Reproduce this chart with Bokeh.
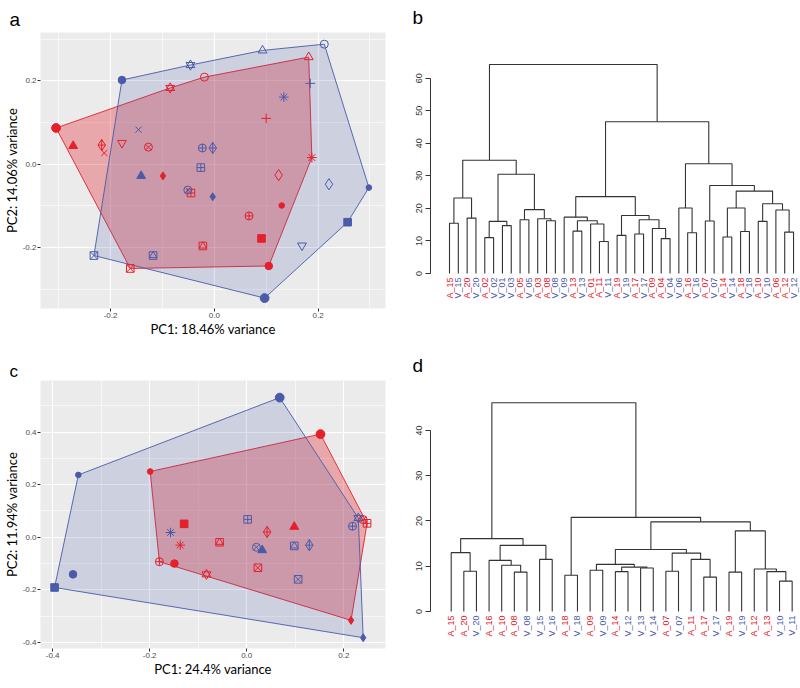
import math
from bokeh.plotting import figure
from bokeh.models import Range1d, FixedTicker, Title, ColumnDataSource, PrintfTickFormatter
from bokeh.layouts import row, column
from bokeh.embed import file_html
from bokeh.resources import INLINE
from bokeh.core.properties import value

RED = "#E3202B"
BLUE = "#4A5BA8"

# ---------------- panel a : PCA ----------------
a_group = ["A"] * 20 + ["V"] * 20
a_shape = [19, 11, 1, 2, 3, 8, 16, 7, 17, 9, 4, 6, 13, 18, 12, 5, 20, 10, 15, 14,
           16, 11, 2, 1, 20, 15, 19, 7, 4, 17, 10, 9, 12, 13, 18, 8, 3, 5, 6, 14]
a_pc1 = [-0.305, -0.085, -0.019, 0.182, 0.100, 0.188, 0.105, -0.162, -0.272, -0.217,
         -0.212, -0.178, -0.127, -0.099, -0.045, 0.124, 0.130, 0.067, 0.091, -0.022,
         -0.178, -0.046, 0.093, 0.212, 0.298, 0.257, 0.097, -0.232, -0.146, -0.141,
         -0.023, -0.003, -0.026, -0.051, -0.003, 0.134, 0.185, 0.221, 0.169, -0.118]
a_pc2 = [0.087, 0.183, 0.209, 0.257, 0.110, 0.016, -0.244, -0.250, 0.044, 0.046,
         0.027, 0.051, 0.041, -0.028, -0.069, -0.026, -0.099, -0.124, -0.178, -0.196,
         0.202, 0.238, 0.273, 0.288, -0.056, -0.139, -0.321, -0.219, 0.083, -0.028,
         0.039, 0.039, -0.008, -0.062, -0.078, 0.161, 0.194, -0.048, -0.195, -0.219]
a_xticks = [-0.2, 0.0, 0.2]
a_yticks = [-0.2, 0.0, 0.2]

# ---------------- panel c : PCA ----------------
c_group = ["A"] * 14 + ["V"] * 14
c_shape = [20, 19, 12, 18, 11, 16, 10, 15, 8, 14, 9, 17, 7, 13,
           19, 11, 18, 15, 20, 16, 8, 12, 13, 17, 14, 9, 7, 10]
c_pc1 = [-0.199, 0.152, 0.248, 0.215, -0.083, -0.149, -0.180, -0.129, -0.137, -0.056,
         0.042, 0.098, 0.023, 0.240,
         0.068, 0.230, 0.240, -0.396, -0.347, -0.358, -0.157, 0.002, 0.020, 0.032,
         0.098, 0.129, 0.106, 0.218]
c_pc2 = [0.250, 0.392, 0.053, -0.316, -0.141, -0.100, -0.093, 0.051, -0.030, -0.019,
         0.020, 0.040, -0.116, 0.067,
         0.531, 0.073, -0.382, -0.191, 0.237, -0.141, 0.018, 0.068, -0.038, -0.049,
         -0.033, -0.030, -0.160, 0.042]
c_xticks = [-0.4, -0.2, 0.0, 0.2]
c_yticks = [-0.4, -0.2, 0.0, 0.2, 0.4]

# ---------------- panel b : dendrogram ----------------
b_labels = ["A_15", "V_15", "A_20", "V_20", "A_02", "V_02", "V_01", "V_03", "A_05", "V_05",
            "A_03", "A_08", "V_08", "V_09", "A_13", "V_13", "A_01", "A_11", "V_11", "A_19",
            "V_19", "A_17", "V_17", "A_09", "A_04", "V_04", "V_06", "A_16", "V_16", "A_07",
            "V_07", "A_14", "V_14", "A_18", "V_18", "A_10", "V_10", "A_06", "A_12", "V_12"]
# merges: negative = leaf position, positive = earlier merge number
b_merge_left = [-1, -3, 1, -5, -7, 4, -9, -12, -11, 7, 6, 3, -15, -18, -17, 13, -14, -20, -22, -25,
                -24, 19, 18, 17, -28, -27, -30, -32, -34, 28, -36, -39, -38, 31, 30, 27, 26, 24, 12]
b_merge_right = [-2, -4, 2, -6, -8, 5, -10, -13, 8, 9, 10, 11, -16, -19, 14, 15, 16, -21, -23, -26,
                 20, 21, 22, 23, -29, 25, -31, -33, -35, 29, -37, -40, 32, 33, 34, 35, 36, 37, 38]
b_merge_height = [15.4, 17.0, 23.2, 11.0, 14.7, 16.0, 16.5, 16.2, 16.8, 19.6, 30.5, 34.8, 13.0,
                  9.8, 15.2, 16.2, 17.3, 11.7, 12.1, 10.7, 13.8, 16.5, 17.8, 23.6, 12.5, 20.1,
                  16.1, 11.2, 12.9, 20.1, 16.0, 12.7, 19.5, 21.4, 25.3, 27.0, 33.7, 46.6, 64.2]
b_yticks = [0, 10, 20, 30, 40, 50, 60]

# ---------------- panel d : dendrogram ----------------
d_labels = ["A_15", "A_20", "V_20", "A_16", "A_10", "A_08", "V_08", "V_15", "V_16", "A_18",
            "V_18", "A_09", "V_09", "A_14", "V_12", "V_13", "V_14", "A_07", "V_07", "A_11",
            "A_17", "V_17", "A_19", "V_19", "A_12", "A_13", "V_10", "V_11"]
d_merge_left = [-2, -1, -6, -5, -4, -8, 5, 2, -10, -12, -14, -16, 11, 10, -18, -21, -20, 15,
                14, -23, -27, -26, -25, 20, 19, 9, 8]
d_merge_right = [-3, 1, -7, 3, 4, -9, 6, 7, -11, -13, -15, -17, 12, 13, -19, -22, 16, 17,
                 18, -24, -28, 21, 22, 23, 24, 25, 26]
d_merge_height = [8.9, 13.0, 8.7, 10.2, 11.3, 11.5, 14.6, 16.1, 8.0, 9.1, 8.8, 9.6, 9.8, 10.4,
                  8.9, 7.6, 11.5, 12.9, 13.7, 8.7, 6.7, 8.8, 9.4, 17.8, 19.8, 20.8, 46.1]
d_yticks = [0, 10, 20, 30, 40]

# ggplot-like shape codes -> bokeh markers (marker, filled, size factor)
MARKERS = {
    0: [("square", False, 0.95)],
    1: [("circle", False, 1.0)],
    2: [("triangle", False, 1.1)],
    3: [("cross", False, 1.2)],
    4: [("x", False, 1.1)],
    5: [("diamond", False, 1.4)],
    6: [("inverted_triangle", False, 1.1)],
    7: [("square_x", False, 0.95)],
    8: [("asterisk", False, 1.2)],
    9: [("diamond_cross", False, 1.4)],
    10: [("circle_cross", False, 1.0)],
    11: [("triangle", False, 1.1), ("inverted_triangle", False, 1.1)],
    12: [("square_cross", False, 0.95)],
    13: [("circle_x", False, 1.0)],
    14: [("square", False, 0.95), ("triangle", False, 0.9)],
    15: [("square", True, 0.95)],
    16: [("circle", True, 0.95)],
    17: [("triangle", True, 1.1)],
    18: [("diamond", True, 1.0)],
    19: [("circle", True, 1.1)],
    20: [("circle", True, 0.7)],
}
BASE = 8
COLORS = {"A": RED, "V": BLUE}
ALPHA = {"A": 0.33, "V": 0.18}
LABEL_FONT = "Lato"
TICK_FONT = "Liberation Sans"


def convex_hull(points):
    pts = sorted(set(points))

    def cross(o, a, b):
        return (a[0] - o[0]) * (b[1] - o[1]) - (a[1] - o[1]) * (b[0] - o[0])

    lower, upper = [], []
    for q in pts:
        while len(lower) >= 2 and cross(lower[-2], lower[-1], q) <= 0:
            lower.pop()
        lower.append(q)
    for q in reversed(pts):
        while len(upper) >= 2 and cross(upper[-2], upper[-1], q) <= 0:
            upper.pop()
        upper.append(q)
    return lower[:-1] + upper[:-1]


def panel_letter(letter, offset, standoff, size):
    return Title(text=letter, align="left", offset=offset, standoff=standoff,
                 text_font="Liberation Sans", text_font_size=size,
                 text_font_style="normal", text_color="black")


def pca_fig(w, h, xr, yr, xticks, yticks, xlabel, ylabel, group, shape, xs, ys, borders,
            title):
    p = figure(width=w, height=h, x_range=Range1d(*xr), y_range=Range1d(*yr), title=title,
               output_backend="svg", toolbar_location=None,
               background_fill_color="#EBEBEB", border_fill_color="white",
               outline_line_color=None,
               min_border_left=borders[0], min_border_right=borders[1],
               min_border_top=borders[2], min_border_bottom=borders[3])
    step = xticks[1] - xticks[0]
    p.xaxis.ticker = FixedTicker(ticks=xticks,
                                 minor_ticks=[t + step / 2 for t in [xticks[0] - step] + xticks])
    p.yaxis.ticker = FixedTicker(ticks=yticks,
                                 minor_ticks=[t + step / 2 for t in [yticks[0] - step] + yticks])
    p.axis.formatter = PrintfTickFormatter(format="%.1f")
    p.grid.grid_line_color = "white"
    p.grid.grid_line_width = 1.2
    p.grid.minor_grid_line_color = "white"
    p.grid.minor_grid_line_width = 0.6
    p.axis.axis_line_color = None
    p.axis.major_tick_line_color = "#333333"
    p.axis.major_tick_out = 3
    p.axis.major_tick_in = 0
    p.axis.minor_tick_out = 0
    p.axis.minor_tick_in = 0
    p.axis.major_label_text_font_size = "8px"
    p.axis.major_label_text_color = "#4D4D4D"
    p.axis.major_label_text_font = TICK_FONT
    p.axis.major_label_standoff = 1
    p.axis.axis_label_standoff = 0
    p.axis.axis_label_text_font = LABEL_FONT
    p.axis.axis_label_text_font_size = "13px"
    p.axis.axis_label_text_font_style = "normal"
    p.axis.axis_label_text_color = "black"
    p.xaxis.axis_label = xlabel
    p.yaxis.axis_label = ylabel

    # hulls (A first, V on top)
    for g in ("A", "V"):
        pts = [(xs[i], ys[i]) for i in range(len(xs)) if group[i] == g]
        hl = convex_hull(pts)
        p.patch([q[0] for q in hl], [q[1] for q in hl], fill_color=COLORS[g],
                fill_alpha=ALPHA[g], line_color=COLORS[g], line_width=1, line_alpha=0.9)
    # points
    for g in ("A", "V"):
        for s, parts in MARKERS.items():
            idx = [i for i in range(len(xs)) if group[i] == g and shape[i] == s]
            if not idx:
                continue
            src = ColumnDataSource(dict(x=[xs[i] for i in idx], y=[ys[i] for i in idx]))
            for marker, filled, scale in parts:
                p.scatter("x", "y", source=src, marker=marker, size=BASE * scale,
                          line_color=COLORS[g], line_width=1,
                          fill_color=COLORS[g] if filled else None)
    return p


def dendro_fig(w, h, labels, ml, mr, mh, xr, yr, yticks, borders, title):
    p = figure(width=w, height=h, x_range=Range1d(*xr), y_range=Range1d(*yr), title=title,
               output_backend="svg", toolbar_location=None, x_axis_type=None,
               outline_line_color=None,
               min_border_left=borders[0], min_border_right=borders[1],
               min_border_top=borders[2], min_border_bottom=borders[3])
    p.grid.visible = False
    ax = p.yaxis[0]
    ax.ticker = FixedTicker(ticks=yticks)
    ax.bounds = (yticks[0], yticks[-1])
    ax.major_label_orientation = "vertical"
    ax.minor_tick_out = 0
    ax.minor_tick_in = 0
    ax.major_tick_in = 0
    ax.major_tick_out = 5
    ax.axis_line_color = "#333333"
    ax.major_tick_line_color = "#333333"
    ax.major_label_text_font = "Liberation Sans"
    ax.major_label_text_font_size = "9px"
    ax.major_label_text_color = "#333333"
    ax.major_label_standoff = 3

    pos = {}
    xs_seg, ys_seg = [], []

    def node(k):
        if k < 0:
            return float(-k), 0.0
        return pos[k], mh[k - 1]

    for i in range(len(ml)):
        xl, hl = node(ml[i])
        xr_, hr = node(mr[i])
        xs_seg.append([xl, xl, xr_, xr_])
        ys_seg.append([hl, mh[i], mh[i], hr])
        pos[i + 1] = (xl + xr_) / 2
    p.multi_line(xs_seg, ys_seg, line_color="#333333", line_width=1.1)

    n = len(labels)
    src = ColumnDataSource(dict(x=list(range(1, n + 1)), y=[0] * n, t=labels,
                                c=[RED if s.startswith("A") else BLUE for s in labels]))
    p.text("x", "y", text="t", source=src, angle=math.pi / 2, text_align="right",
           text_baseline="middle", text_color="c", text_font=value("Liberation Sans"),
           text_font_size="9px", y_offset=4)
    return p


# panel a: frame x ~35..385, y 27..317 (figure 400 x 348)
pa = pca_fig(400, 348, (-0.335, 0.33), (-0.346, 0.316), a_xticks, a_yticks,
             "PC1: 18.46% variance", "PC2: 14.06% variance",
             a_group, a_shape, a_pc1, a_pc2, (35, 15, 27, 31),
             panel_letter("a", -31, 6, "19px"))
# panel b: frame x 30..400, y 30..308
pb = dendro_fig(400, 348, b_labels, b_merge_left, b_merge_right, b_merge_height,
                (-1.154, 40.79), (-10.77, 74.03), b_yticks, (30, 0, 30, 40),
                panel_letter("b", -18, 9, "19px"))
# panel c: frame x ~35..385, y ~19..309 (figure 400 x 340)
pc = pca_fig(400, 340, (-0.425, 0.286), (-0.423, 0.596), c_xticks, c_yticks,
             "PC1: 24.4% variance", "PC2: 11.94% variance",
             c_group, c_shape, c_pc1, c_pc2, (35, 15, 19, 31),
             panel_letter("c", -31, 0, "17px"))
# panel d: frame x 30..400, y 30..300
pd = dendro_fig(400, 340, d_labels, d_merge_left, d_merge_right, d_merge_height,
                (-0.639, 28.66), (-8.18, 51.03), d_yticks, (30, 0, 30, 40),
                panel_letter("d", -18, 9, "19px"))

layout = column(row(pa, pb), row(pc, pd))
open("out.html", "w").write(file_html(layout, INLINE))
